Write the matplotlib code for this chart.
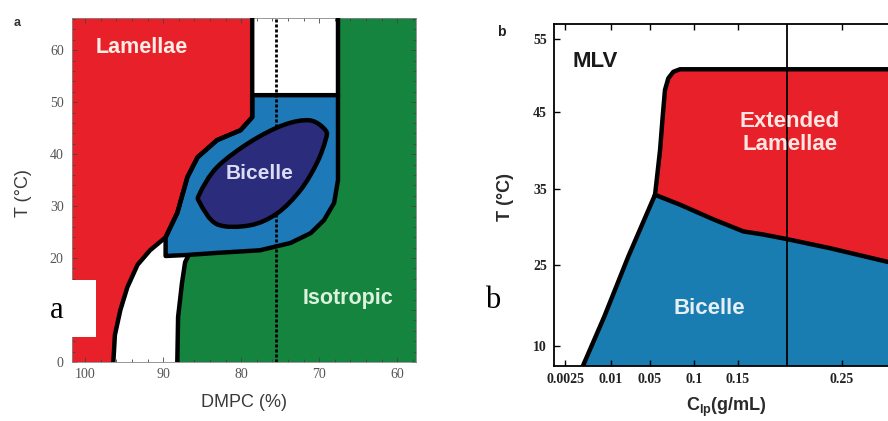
import numpy as np
import matplotlib
matplotlib.use('Agg')
import matplotlib.pyplot as plt
from matplotlib.patches import Rectangle, PathPatch
from matplotlib.path import Path
from matplotlib.ticker import FixedLocator, NullLocator, MultipleLocator

# ---------------- Panel a : DMPC (%) vs T (°C) ----------------
a_xticks = [100, 90, 80, 70, 60]
a_yticks = [0, 10, 20, 30, 40, 50, 60]
a_yticklabels = ['0', '', '20', '30', '40', '50', '60']   # "10" is hidden under the label box
a_xlim = (101.7, 57.6)
a_ylim = (0, 66.2)

# Lamellae (red) right boundary, top -> bottom
lam_D = [78.6, 78.6, 80.1, 83.1, 85.6, 86.9, 88.2, 89.7, 91.7, 93.3, 94.6, 95.5, 96.2, 96.4, 96.45]
lam_T = [67.0, 47.1, 44.6, 42.7, 39.4, 35.6, 28.7, 24.0, 21.5, 18.7, 14.4, 10.0, 5.2, 0.0, -1.0]

# Bicelle (light blue) region outline
bic_D = [78.6, 67.6, 67.6, 68.1, 69.4, 71.1, 73.7, 77.6, 83.1, 86.9, 89.7, 89.7, 88.2, 86.9, 85.6, 83.1, 80.1, 78.6]
bic_T = [51.35, 51.35, 35.0, 30.6, 27.3, 24.8, 22.9, 21.5, 21.0, 20.6, 20.4, 24.0, 28.7, 35.6, 39.4, 42.7, 44.6, 47.1]

# Core bicelle (dark blue) outline
core_D = [69.2, 71.2, 74.6, 78.9, 83.1, 85.3, 85.3, 83.1, 78.9, 75.4, 72.4, 70.3, 69.2]
core_T = [44.6, 46.5, 45.6, 42.3, 37.5, 32.5, 30.6, 26.5, 26.3, 28.6, 33.1, 38.3, 42.7]

# Lower white (two-phase) region and its right boundary
wlo_D = [89.7, 89.7, 86.9, 86.8, 87.2, 87.6, 88.1, 88.2, 88.25, 96.45, 96.4, 96.2, 95.5, 94.6, 93.3, 91.7]
wlo_T = [24.0, 20.4, 20.6, 20.2, 19.2, 15.2, 8.65, 0.0, -1.0, -1.0, 0.0, 5.2, 10.0, 14.4, 18.7, 21.5]
iso_D = [86.8, 87.2, 87.6, 88.1, 88.2, 88.25]
iso_T = [20.4, 19.2, 15.2, 8.65, 0.0, -1.0]

# Upper white region
wup_D = [78.6, 67.6]
wup_T = [51.35, 67.0]

dashed_D = 75.5

# ---------------- Panel b : C_lp (g/mL) vs T (°C) ----------------
b_xticks = [0.0025, 0.01, 0.05, 0.1, 0.15, 0.25]
b_xticklabels = ['0.0025', '0.01', '0.05', '0.1', '0.15', '0.25']
b_yticks = [10, 25, 35, 45, 55]
# axis break-point scale (value -> relative axis position)
b_x_knots = [0.0, 0.0025, 0.01, 0.05, 0.1, 0.15, 0.25, 0.5]
b_x_pos = [-15.3, 0.0, 46.0, 85.0, 129.0, 173.0, 277.0, 537.0]
b_y_knots = [0.0, 10.0, 25.0, 35.0, 45.0, 55.0, 70.0]
b_y_pos = [-53.8, 0.0, 80.7, 157.0, 234.0, 306.4, 415.0]
b_xlim = (0.0007, 0.31)
b_ylim = (6.23, 57.1)

# MLV / bicelle boundary
mlv_C = [0.0050, 0.0054, 0.0089, 0.0277, 0.0557]
mlv_T = [5.3, 6.2, 15.4, 26.1, 34.2]
# MLV / extended lamellae boundary (rising then flat)
ext_C = [0.0557, 0.0576, 0.0614, 0.0644, 0.0670, 0.0708, 0.0765, 0.0841, 0.32]
ext_T = [34.2, 36.1, 40.0, 44.35, 48.0, 49.6, 50.5, 50.85, 50.85]
# bicelle / extended lamellae boundary
bl_C = [0.0557, 0.0841, 0.1216, 0.1551, 0.174, 0.1968, 0.2385, 0.2942, 0.32]
bl_T = [34.2, 32.9, 31.0, 29.4, 29.0, 28.4, 27.2, 25.4, 24.9]
vline_C = 0.197

RED = '#E8202A'
GREEN = '#15843F'
BLUE_A = '#1E79B9'
BLUE_B = '#1A7DB2'
NAVY = '#2B2C7C'


def smooth_closed(x, y):
    P = np.column_stack([x, y])
    n = len(P)
    verts = [P[0]]
    codes = [Path.MOVETO]
    for i in range(n):
        p0, p1, p2, p3 = P[i - 1], P[i], P[(i + 1) % n], P[(i + 2) % n]
        verts += [p1 + (p2 - p0) / 6.0, p2 - (p3 - p1) / 6.0, p2]
        codes += [Path.CURVE4] * 3
    verts.append(P[0])
    codes.append(Path.CLOSEPOLY)
    return Path(np.array(verts), codes)


fig = plt.figure(figsize=(8.88, 4.21), dpi=100)
W, H = 888.0, 421.0

# ================= Panel a =================
axa = fig.add_axes([72 / W, (H - 362) / H, 344 / W, 344 / H])
axa.set_facecolor(GREEN)
axa.set_xlim(*a_xlim)
axa.set_ylim(*a_ylim)
LW = 3.2
x0, x1 = a_xlim
ytop = 67.0
# red
axa.fill([x0 + 1, x0 + 1] + lam_D, [-1, ytop] + lam_T, color=RED, lw=0, zorder=1)
# white regions
axa.fill([wup_D[0], wup_D[1], wup_D[1], wup_D[0]], [wup_T[0], wup_T[0], wup_T[1], wup_T[1]],
         color='white', lw=0, zorder=1)
axa.fill(wlo_D, wlo_T, color='white', lw=0, zorder=1)
# bicelle region
axa.fill(bic_D, bic_T, facecolor=BLUE_A, edgecolor='black', lw=LW, joinstyle='round', zorder=2)
# dashed line
axa.axvline(dashed_D, color='black', lw=2.0, ls=(0, (1.1, 0.7)), zorder=2.5)
# core
core = PathPatch(smooth_closed(core_D, core_T), facecolor=NAVY, edgecolor='black', lw=LW, zorder=3)
axa.add_patch(core)
# boundary lines
axa.plot(lam_D, lam_T, color='black', lw=LW, solid_joinstyle='round', zorder=4)
axa.plot(iso_D, iso_T, color='black', lw=LW, solid_joinstyle='round', zorder=4)
axa.plot([wup_D[1], wup_D[1]], [wup_T[0], wup_T[1]], color='black', lw=LW, zorder=4)

axa.text(92.7, 60.6, 'Lamellae', color='#FFEDE6', fontsize=15.5, fontweight='bold',
         family='Liberation Sans', ha='center', va='center', zorder=6)
axa.text(77.6, 36.3, 'Bicelle', color='#DCDCF5', fontsize=15, fontweight='bold',
         family='Liberation Sans', ha='center', va='center', zorder=6)
axa.text(66.3, 12.3, 'Isotropic', color='#DDF2DD', fontsize=15.5, fontweight='bold',
         family='Liberation Sans', ha='center', va='center', zorder=6)

axa.xaxis.set_major_locator(FixedLocator(a_xticks))
axa.yaxis.set_major_locator(FixedLocator(a_yticks))
axa.yaxis.set_major_formatter(plt.FixedFormatter(a_yticklabels))
axa.xaxis.set_minor_locator(MultipleLocator(2))
axa.yaxis.set_minor_locator(MultipleLocator(2))
axa.tick_params(which='both', direction='in', top=True, right=True, color='#444', width=0.6)
axa.tick_params(which='major', length=3.5)
axa.tick_params(which='minor', length=2)
axa.tick_params(axis='x', pad=4)
axa.tick_params(axis='y', pad=6)
for lab in axa.get_xticklabels() + axa.get_yticklabels():
    lab.set_family('Liberation Serif')
    lab.set_fontsize(10)
    lab.set_color('#555555')
for s in axa.spines.values():
    s.set_color('#888888')
    s.set_linewidth(0.6)
axa.set_xlabel('DMPC (%)', family='Liberation Sans', fontsize=13, color='#3a3a3a')
axa.xaxis.set_label_coords(0.5, -0.093)
axa.set_ylabel('T (°C)', family='Liberation Sans', fontsize=13, color='#3a3a3a')
axa.yaxis.set_label_coords(-0.115, 0.49)

# ================= Panel b =================
fwd_x = lambda v: np.interp(v, b_x_knots, b_x_pos)
inv_x = lambda p: np.interp(p, b_x_pos, b_x_knots)
fwd_y = lambda v: np.interp(v, b_y_knots, b_y_pos)
inv_y = lambda p: np.interp(p, b_y_pos, b_y_knots)

right_px = 565 + fwd_x(b_xlim[1])
axb = fig.add_axes([554 / W, (H - 366) / H, (right_px - 554) / W, 342 / H])
axb.set_xscale('function', functions=(fwd_x, inv_x))
axb.set_yscale('function', functions=(fwd_y, inv_y))
axb.set_xlim(*b_xlim)
axb.set_ylim(*b_ylim)
axb.set_facecolor('white')

xr = b_xlim[1] + 0.02
yb = 4.0
# bicelle (blue)
bx = mlv_C + bl_C[1:] + [xr, xr, mlv_C[0]]
by = mlv_T + bl_T[1:] + [bl_T[-1], yb, yb]
axb.fill(bx, by, color=BLUE_B, lw=0, zorder=1)
# extended lamellae (red)
rx = ext_C + [xr, xr] + bl_C[::-1]
ry = ext_T + [ext_T[-1], bl_T[-1]] + bl_T[::-1]
axb.fill(rx, ry, color=RED, lw=0, zorder=1)
axb.axvline(vline_C, color='black', lw=1.3, zorder=2)
LWB = 3.2
axb.plot(mlv_C + ext_C[1:], mlv_T + ext_T[1:], color='black', lw=LWB,
         solid_joinstyle='round', zorder=3)
axb.plot(bl_C, bl_T, color='black', lw=LWB, solid_joinstyle='round', zorder=3)

axb.text(0.00739, 51.9, 'MLV', color='#1a1a1a', fontsize=16, fontweight='bold',
         family='Liberation Sans', ha='center', va='center', zorder=6)
axb.text(0.2, 42.2, 'Extended\nLamellae', color='#FFE6E2', fontsize=16, fontweight='bold',
         family='Liberation Sans', ha='center', va='center', linespacing=1.15, zorder=6)
axb.text(0.117, 17.0, 'Bicelle', color='#E6EEF6', fontsize=16, fontweight='bold',
         family='Liberation Sans', ha='center', va='center', zorder=6)

axb.xaxis.set_major_locator(FixedLocator(b_xticks))
axb.xaxis.set_major_formatter(plt.FixedFormatter(b_xticklabels))
axb.xaxis.set_minor_locator(NullLocator())
axb.yaxis.set_major_locator(FixedLocator(b_yticks))
axb.yaxis.set_major_formatter(plt.FixedFormatter([str(v) for v in b_yticks]))
axb.yaxis.set_minor_locator(NullLocator())
axb.tick_params(direction='in', top=True, length=4, width=1.0, color='black')
axb.tick_params(axis='x', pad=5)
axb.tick_params(axis='y', pad=5)
for lab in axb.get_xticklabels() + axb.get_yticklabels():
    lab.set_family('Liberation Serif')
    lab.set_fontweight('bold')
    lab.set_fontsize(10)
    lab.set_color('#222222')
for s in axb.spines.values():
    s.set_linewidth(1.3)
    s.set_zorder(5)
axb.set_xlabel(r'C$_{\mathregular{lp}}$(g/mL)', family='Liberation Sans', fontweight='bold',
               fontsize=13, color='#2a2a2a')
axb.xaxis.set_label_coords((726 - 554) / (right_px - 554), -0.088)
axb.set_ylabel('T (°C)', family='Liberation Sans', fontweight='bold', fontsize=13, color='#2a2a2a')
axb.yaxis.set_label_coords((514 - 554) / (right_px - 554), 0.494)

# panel letters
fig.text(17 / W, 1 - 23 / H, 'a', family='Liberation Sans', fontweight='bold', fontsize=9,
         color='#333', ha='center', va='center')
fig.text(501 / W, 1 - 32 / H, 'b', family='Liberation Sans', fontweight='bold', fontsize=10,
         color='#222', ha='center', va='center')
# white label box with serif letters
fig.add_artist(Rectangle((0, (H - 337) / H), 96 / W, 57 / H, transform=fig.transFigure,
                         facecolor='white', edgecolor='none', zorder=10))
fig.text(57 / W, 1 - 310 / H, 'a', family='Liberation Serif', fontsize=22, color='black',
         ha='center', va='center', zorder=11)
fig.text(493 / W, 1 - 300 / H, 'b', family='Liberation Serif', fontsize=22, color='black',
         ha='center', va='center', zorder=11)

fig.savefig('out.png', dpi=100)
